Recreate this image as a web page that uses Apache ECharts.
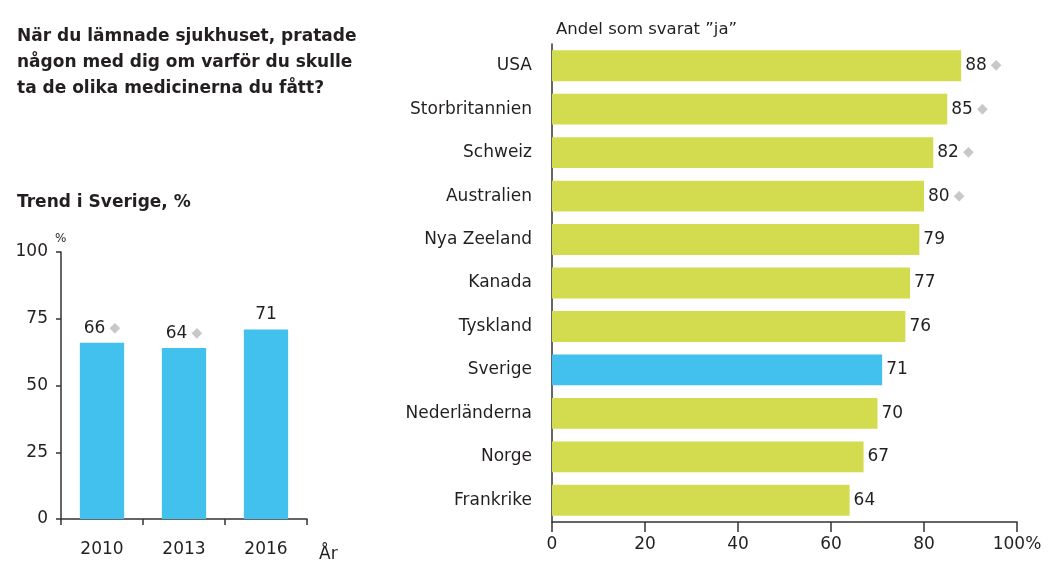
<!DOCTYPE html>
<html>
<head>
<meta charset="utf-8">
<script src="https://cdn.jsdelivr.net/npm/echarts@6/dist/echarts.min.js"></script>
<style>html,body{margin:0;padding:0;background:#fff}#c{width:1051px;height:562px}</style>
</head>
<body>
<div id="c"></div>
<script>
const years = ['2010', '2013', '2016'];
const trendValues = [66, 64, 71];
const trendMarked = [true, true, false];

const countries = ['USA', 'Storbritannien', 'Schweiz', 'Australien', 'Nya Zeeland', 'Kanada', 'Tyskland', 'Sverige', 'Nederländerna', 'Norge', 'Frankrike'];
const countryValues = [88, 85, 82, 80, 79, 77, 76, 71, 70, 67, 64];
const countryMarked = [true, true, true, true, false, false, false, false, false, false, false];
const highlightCountry = 'Sverige';

const FONT = '"DejaVu Sans", sans-serif';
const GREEN = '#d3db4f';
const BLUE = '#42c0ee';
const AXIS = '#333';
const TXT = '#231f20';

const chart = echarts.init(document.getElementById('c'));

function lbl(marked) {
  return function (p) { return p.value + (marked[p.dataIndex] ? '{d|◆}' : ''); };
}
const rich = { d: { color: '#c8c8c8', fontSize: 14, padding: [0, 0, 0, 4] } };

chart.setOption({
  animation: false,
  textStyle: { fontFamily: FONT },
  title: [
    { text: 'När du lämnade sjukhuset, pratade\nnågon med dig om varför du skulle\nta de olika medicinerna du fått?', left: 12, top: 19,
      textStyle: { fontFamily: FONT, fontSize: 17, fontWeight: 'bold', color: TXT, lineHeight: 26 } },
    { text: 'Trend i Sverige, %', left: 12, top: 189,
      textStyle: { fontFamily: FONT, fontSize: 17, fontWeight: 'bold', color: TXT } },
    { text: '%', left: 50, top: 228, textStyle: { fontFamily: FONT, fontSize: 12, fontWeight: 'normal', color: TXT } },
    { text: 'Andel som svarat ”ja”', left: 551, top: 16, textStyle: { fontFamily: FONT, fontSize: 16.5, fontWeight: 'normal', color: TXT } },
    { text: 'År', left: 314, top: 541, textStyle: { fontFamily: FONT, fontSize: 17, fontWeight: 'normal', color: TXT } }
  ],
  grid: [
    { left: 61, top: 252, width: 246, height: 267, containLabel: false },
    { left: 552, top: 44, width: 465, height: 478, containLabel: false }
  ],
  xAxis: [
    { type: 'category', gridIndex: 0, data: years,
      axisLine: { lineStyle: { color: AXIS, width: 1.5 } },
      axisTick: { show: true, length: 6, alignWithLabel: false, lineStyle: { color: AXIS, width: 1.5 } },
      axisLabel: { color: TXT, fontSize: 17, margin: 22 } },
    { type: 'value', gridIndex: 1, min: 0, max: 100, interval: 20,
      axisLine: { show: true, lineStyle: { color: AXIS, width: 1.5 } },
      axisTick: { show: true, length: 10, lineStyle: { color: AXIS, width: 1.5 } },
      splitLine: { show: false },
      axisLabel: { color: TXT, fontSize: 17, margin: 14,
        formatter: function (v) { return v === 100 ? '100%' : String(v); } } }
  ],
  yAxis: [
    { type: 'value', gridIndex: 0, min: 0, max: 100, interval: 25,
      axisLine: { show: true, lineStyle: { color: AXIS, width: 1.5 } },
      axisTick: { show: true, length: 5, lineStyle: { color: AXIS, width: 1.5 } },
      splitLine: { show: false },
      axisLabel: { color: TXT, fontSize: 17, margin: 13 } },
    { type: 'category', gridIndex: 1, data: countries, inverse: true,
      axisLine: { show: true, lineStyle: { color: AXIS, width: 1.5 } },
      axisTick: { show: false },
      axisLabel: { color: TXT, fontSize: 17, margin: 20 } }
  ],
  series: [
    { type: 'bar', xAxisIndex: 0, yAxisIndex: 0, data: trendValues, barWidth: '54%',
      itemStyle: { color: BLUE },
      label: { show: true, position: 'top', distance: 6, color: TXT, fontSize: 17, formatter: lbl(trendMarked), rich: rich } },
    { type: 'bar', xAxisIndex: 1, yAxisIndex: 1,
      data: countryValues.map(function (v, i) { return { value: v, itemStyle: { color: countries[i] === highlightCountry ? BLUE : GREEN } }; }),
      barWidth: '71%',
      label: { show: true, position: 'right', distance: 4, color: TXT, fontSize: 17, formatter: lbl(countryMarked), rich: rich } }
  ]
});
</script>
</body>
</html>
